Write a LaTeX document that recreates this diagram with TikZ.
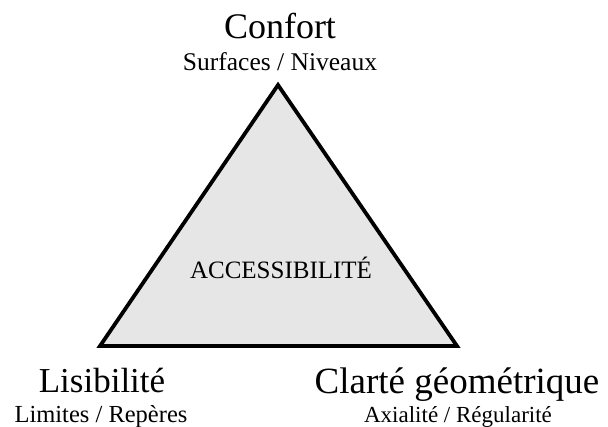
\documentclass[tikz,border=0pt]{standalone}
\usepackage{fontspec}
\setmainfont{Liberation Serif}
\definecolor{trifill}{RGB}{230,230,230}
\tikzset{
  lbl/.style={anchor=base, inner sep=0pt, text=black},
  tri/.style={draw=black, line width=3.8pt, fill=trifill, line join=miter},
}
\begin{document}
\begin{tikzpicture}[x=1pt, y=-1pt]
\useasboundingbox (0,0) rectangle (608,426);
\fill[white] (0,0) rectangle (608,426);
\coordinate (top) at (278,85);
\coordinate (bl) at (100,346);
\coordinate (br) at (457,346);
\draw[tri] (top) -- (bl) -- (br) -- cycle;
\node[lbl, font=\fontsize{36}{40}\selectfont] (confort) at (280,38) {Confort};
\node[lbl, font=\fontsize{25.5}{28}\selectfont] (surf) at (280,70) {Surfaces / Niveaux};
\node[lbl, font=\fontsize{25}{28}\selectfont] (acc) at (281,278) {ACCESSIBILITÉ};
\node[lbl, font=\fontsize{35}{38}\selectfont] (lis) at (102,392) {Lisibilité};
\node[lbl, font=\fontsize{24.5}{28}\selectfont] (lim) at (101,422) {Limites / Repères};
\node[lbl, font=\fontsize{37}{40}\selectfont] (clar) at (457,393) {Clarté géométrique};
\node[lbl, font=\fontsize{23}{26}\selectfont] (axi) at (458,422) {Axialité / Régularité};
\end{tikzpicture}
\end{document}
